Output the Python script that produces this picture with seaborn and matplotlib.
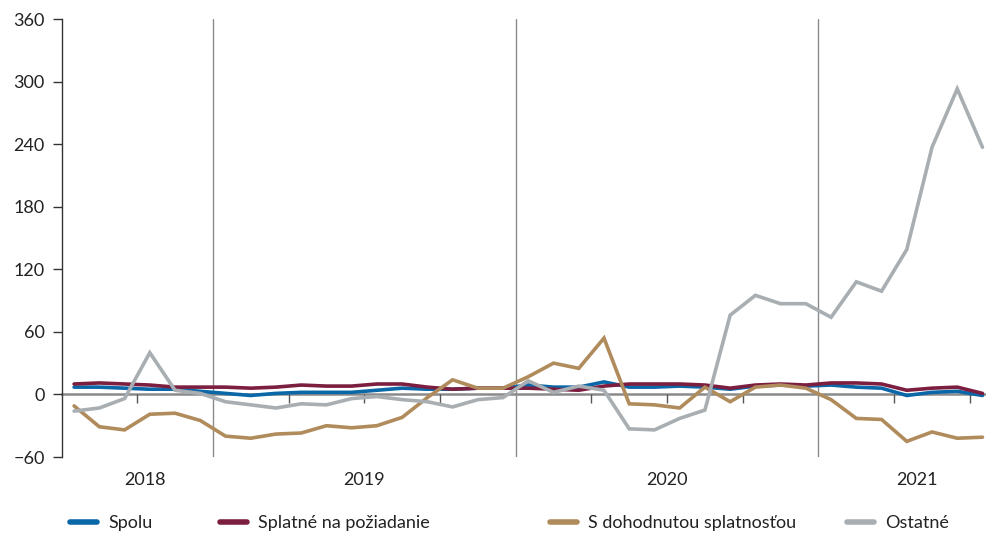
import numpy as np
import pandas as pd
import seaborn as sns
import matplotlib.pyplot as plt
from matplotlib.transforms import blended_transform_factory

# monthly values, Jul 2018 .. Jul 2021
months = pd.period_range("2018-07", "2021-07", freq="M").strftime("%Y-%m").tolist()

spolu = [7, 7, 6, 5, 5, 3,
         1, -1, 1, 2, 2, 2, 4, 6, 5, 5, 6, 6,
         9, 7, 7, 12, 7, 7, 8, 7, 5, 8, 9, 8,
         9, 7, 6, -1, 2, 3, -1]
splatne = [10, 11, 10, 9, 7, 7,
           7, 6, 7, 9, 8, 8, 10, 10, 7, 5, 6, 6,
           6, 5, 4, 8, 10, 10, 10, 9, 6, 9, 10, 9,
           11, 11, 10, 4, 6, 7, 1]
dohodnuta = [-11, -31, -34, -19, -18, -25,
             -40, -42, -38, -37, -30, -32, -30, -22, -3, 14, 6, 6,
             17, 30, 25, 54, -9, -10, -13, 7, -7, 7, 9, 6,
             -5, -23, -24, -45, -36, -42, -41]
ostatne = [-16, -13, -4, 40, 4, 1,
           -7, -10, -13, -9, -10, -4, -2, -5, -7, -12, -5, -3,
           13, 2, 8, 4, -33, -34, -23, -15, 76, 95, 87, 87,
           74, 108, 99, 139, 237, 293, 237]

series_names = ["Spolu", "Splatné na požiadanie", "S dohodnutou splatnosťou", "Ostatné"]
colors = ["#0a67a8", "#7b1e40", "#b08b5c", "#a8aeb1"]
years = ["2018", "2019", "2020", "2021"]
year_label_x = [2.8, 11.5, 23.5, 33.4]
year_breaks = [5.5, 17.5, 29.5]
quarter_ticks = [2.5, 8.5, 11.5, 14.5, 20.5, 23.5, 26.5, 32.5, 35.5]

n = len(months)
df = pd.DataFrame({
    "m": np.tile(np.arange(n), 4),
    "v": spolu + splatne + dohodnuta + ostatne,
    "s": np.repeat(series_names, n),
})

sns.set_style("white")
plt.rcParams["font.family"] = ["Lato", "DejaVu Sans"]

fig = plt.figure(figsize=(9.86, 5.34), dpi=100)
ax = fig.add_axes([62 / 986, 1 - 457 / 534, (985 - 62) / 986, (457 - 19) / 534])

sns.lineplot(data=df, x="m", y="v", hue="s", hue_order=series_names,
             palette=colors, linewidth=2.6, legend=False, ax=ax)
for ln in ax.get_lines():
    ln.set_solid_joinstyle("miter")

ax.set_xlim(-0.48, 36.1)
ax.set_ylim(-60, 360)
ax.set_yticks(np.arange(-60, 361, 60))
ax.set_xticks(quarter_ticks)
ax.set_xticklabels([])
ax.set_xlabel("")
ax.set_ylabel("")

for sp in ["top", "right"]:
    ax.spines[sp].set_visible(False)
ax.spines["left"].set_color("#333333")
ax.spines["left"].set_linewidth(1)
ax.spines["bottom"].set_position(("data", 0))
ax.spines["bottom"].set_color("#8a8a8a")
ax.spines["bottom"].set_linewidth(1.8)
ax.spines["bottom"].set_zorder(0.5)
ax.tick_params(axis="y", left=True, direction="out", length=6.5, width=1,
               color="#333333", labelsize=13, labelcolor="#222222", pad=6)
ax.tick_params(axis="x", bottom=True, direction="out", length=6.5, width=1,
               color="#555555")

for b in year_breaks:
    ax.axvline(b, color="#8a8a8a", linewidth=1, zorder=0.5)

tr = blended_transform_factory(ax.transData, ax.transAxes)
for x, y in zip(year_label_x, years):
    ax.text(x, -0.0525, y, transform=tr, ha="center", va="center",
            fontsize=13, color="#222222")

lines = ax.get_lines()[:4]
legend_x = [65, 215, 545, 842]
for h, name, lx in zip(lines, series_names, legend_x):
    leg = fig.legend([plt.Line2D([], [], color=h.get_color(), linewidth=4,
                                 solid_capstyle="round")],
                     [name], loc="center left",
                     bbox_to_anchor=(lx / 986 - 0.011, 1 - 523 / 534),
                     frameon=False, fontsize=13, handlelength=1.5,
                     handletextpad=0.6, labelcolor="#222222")

fig.savefig("out.png", dpi=100)
